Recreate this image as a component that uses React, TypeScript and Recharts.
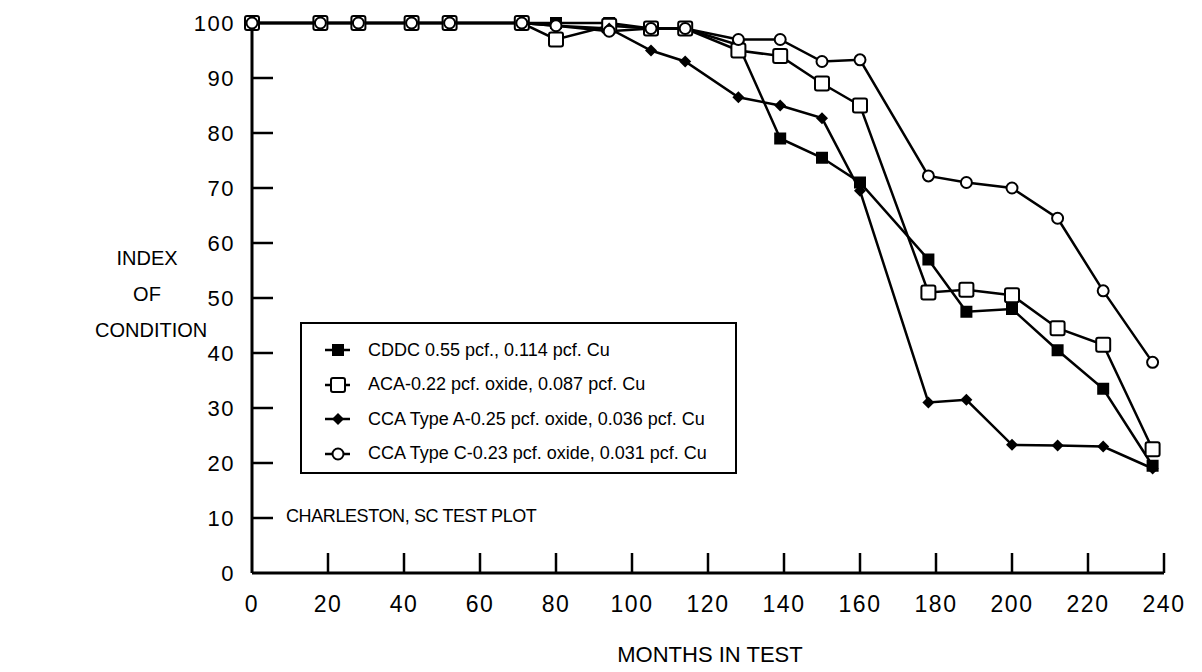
import { LineChart, Line, XAxis, YAxis } from "recharts"

// months at which the four treatments were inspected
const months = [0, 18, 28, 42, 52, 71, 80, 94, 105, 114, 128, 139, 150, 160, 178, 188, 200, 212, 224, 237]

const cddc = [100, 100, 100, 100, 100, 100, 100, 100, 99, 99, 96, 79, 75.5, 71, 57, 47.5, 48, 40.5, 33.5, 19.5]
const aca = [100, 100, 100, 100, 100, 100, 97, 99.5, 99, 99, 95, 94, 89, 85, 51, 51.5, 50.5, 44.5, 41.5, 22.5]
const ccaA = [100, 100, 100, 100, 100, 100, 99.5, 99, 95, 93, 86.5, 85, 82.7, 69.5, 31, 31.5, 23.3, 23.2, 23, 19]
const ccaC = [100, 100, 100, 100, 100, 100, 99.5, 98.5, 99, 99, 97, 97, 93, 93.3, 72.2, 71, 70, 64.5, 51.3, 38.3]

const xTicks = [0, 20, 40, 60, 80, 100, 120, 140, 160, 180, 200, 220, 240]
const yTicks = [0, 10, 20, 30, 40, 50, 60, 70, 80, 90, 100]

const series = [
    { key: "cddc", name: "CDDC 0.55 pcf., 0.114 pcf. Cu", marker: "filledSquare" },
    { key: "aca", name: "ACA-0.22 pcf. oxide, 0.087 pcf. Cu", marker: "openSquare" },
    { key: "ccaA", name: "CCA Type A-0.25 pcf. oxide, 0.036 pcf. Cu", marker: "filledDiamond" },
    { key: "ccaC", name: "CCA Type C-0.23 pcf. oxide, 0.031 pcf. Cu", marker: "openCircle" },
]

const data = months.map((m, i) => ({
    month: m,
    cddc: cddc[i],
    aca: aca[i],
    ccaA: ccaA[i],
    ccaC: ccaC[i],
}))

const FONT = "'Liberation Sans', Arial, sans-serif"

function Marker({ type, cx, cy }: { type: string; cx: number; cy: number }) {
    if (type === "filledSquare") return <rect x={cx - 6} y={cy - 6} width={12} height={12} fill="#000" />
    if (type === "openSquare") return <rect x={cx - 7} y={cy - 7} width={14} height={14} rx={2} fill="#fff" stroke="#000" strokeWidth={2} />
    if (type === "filledDiamond") return <polygon points={`${cx},${cy - 6} ${cx + 6},${cy} ${cx},${cy + 6} ${cx - 6},${cy}`} fill="#000" />
    return <circle cx={cx} cy={cy} r={5.5} fill="#fff" stroke="#000" strokeWidth={2} />
}

const XTick = (props: any) => {
    const { x, y, payload } = props
    return (
        <g>
            {payload.value !== 0 && <line x1={x} y1={y} x2={x} y2={y - 20} stroke="#000" strokeWidth={2.5} />}
            <text x={x} y={y + 39} textAnchor="middle" fontSize={23} letterSpacing={1.5} fontFamily={FONT} fill="#000">{payload.value}</text>
        </g>
    )
}

const YTick = (props: any) => {
    const { x, y, payload } = props
    const v = payload.value
    return (
        <g>
            {v !== 0 && v !== 100 && <line x1={x} y1={y} x2={x + 21} y2={y} stroke="#000" strokeWidth={2.5} />}
            <text x={x - 17} y={y + 8} textAnchor="end" fontSize={22} letterSpacing={1.5} fontFamily={FONT} fill="#000">{v}</text>
        </g>
    )
}

function LegendBox() {
    return (
        <div style={{
            position: "absolute", left: 300, top: 322, width: 433, height: 148,
            border: "2px solid #000", background: "#fff", fontFamily: FONT,
        }}>
            {series.map((s, i) => (
                <div key={s.key} style={{ position: "absolute", left: 0, top: 11 + i * 34.5, height: 30, display: "flex", alignItems: "center" }}>
                    <svg width={60} height={30}>
                        <line x1={23} y1={15} x2={48} y2={15} stroke="#000" strokeWidth={2.5} />
                        <Marker type={s.marker} cx={36} cy={15} />
                    </svg>
                    <span style={{ marginLeft: 6, fontSize: 18, color: "#000", whiteSpace: "nowrap" }}>{s.name}</span>
                </div>
            ))}
        </div>
    )
}

export default function App() {
    return (
        <div style={{ position: "absolute", left: 0, top: 0, width: 1202, height: 672, background: "#fff" }}>
            <LineChart width={1202} height={672} data={data} margin={{ top: 23, right: 38, left: 0, bottom: 0 }}>
                <XAxis
                    dataKey="month"
                    type="number"
                    domain={[0, 240]}
                    ticks={xTicks}
                    interval={0}
                    height={99}
                    tickSize={0}
                    tickMargin={0}
                    tickLine={false}
                    axisLine={{ stroke: "#000", strokeWidth: 3 }}
                    tick={<XTick />}
                />
                <YAxis
                    type="number"
                    domain={[0, 100]}
                    ticks={yTicks}
                    interval={0}
                    width={252}
                    tickSize={0}
                    tickMargin={0}
                    tickLine={false}
                    axisLine={{ stroke: "#000", strokeWidth: 3 }}
                    tick={<YTick />}
                />
                {series.map(s => (
                    <Line
                        key={s.key}
                        dataKey={s.key}
                        name={s.name}
                        type="linear"
                        stroke="#000"
                        strokeWidth={2.5}
                        isAnimationActive={false}
                        dot={(p: any) => <Marker key={`${s.key}-${p.index}`} type={s.marker} cx={p.cx} cy={p.cy} />}
                        activeDot={false}
                    />
                ))}
            </LineChart>
            <div style={{ position: "absolute", left: 95, top: 240, width: 104, textAlign: "center", fontFamily: FONT, fontSize: 20, lineHeight: "36px", color: "#000" }}>
                INDEX<br />OF<br />CONDITION
            </div>
            <div style={{ position: "absolute", left: 286, top: 506, fontFamily: FONT, fontSize: 18, letterSpacing: -0.4, color: "#000", whiteSpace: "nowrap" }}>
                CHARLESTON, SC TEST PLOT
            </div>
            <div style={{ position: "absolute", left: 560, top: 642, width: 300, textAlign: "center", fontFamily: FONT, fontSize: 22, color: "#000" }}>
                MONTHS IN TEST
            </div>
            <LegendBox />
        </div>
    )
}
